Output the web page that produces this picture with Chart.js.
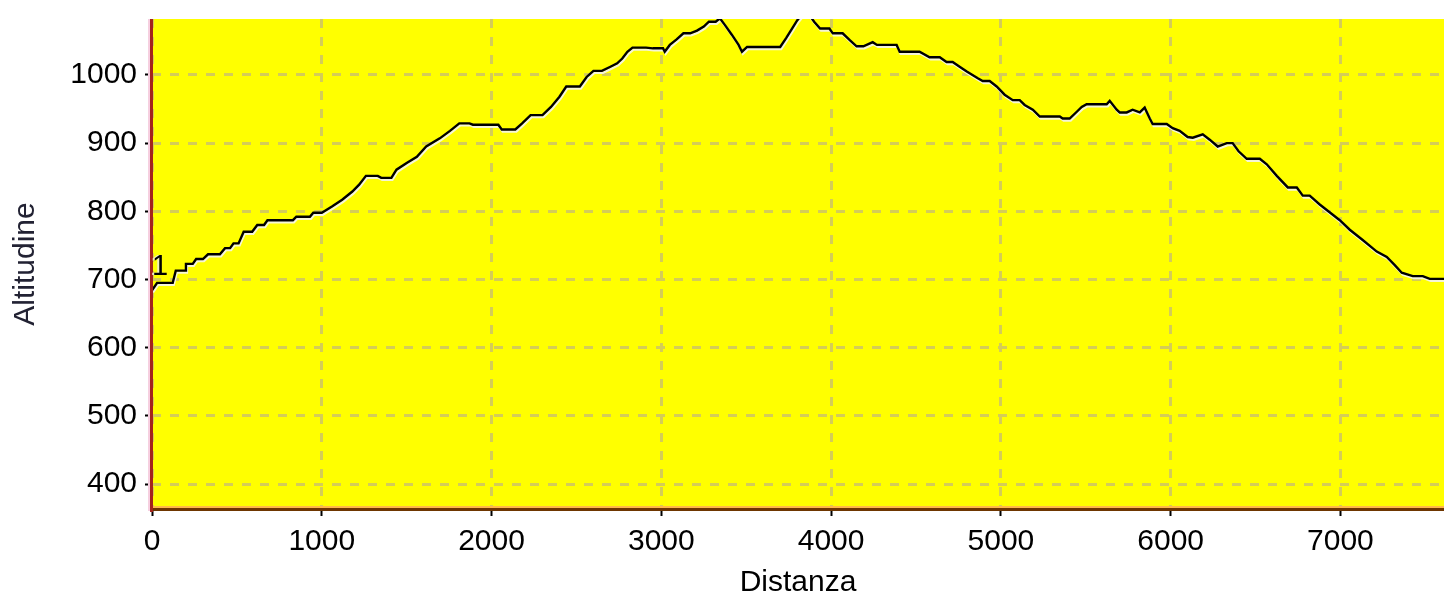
<!DOCTYPE html>
<html>
<head>
<meta charset="utf-8">
<script src="https://cdn.jsdelivr.net/npm/chart.js@4.4.1/dist/chart.umd.min.js"></script>
<style>
  html, body { margin: 0; padding: 0; background: #ffffff; }
  #wrap { position: relative; width: 1447px; height: 607px; }
</style>
</head>
<body>
<div id="wrap"><canvas id="c"></canvas></div>
<script>
// ---- data ----
const distance = [
  0, 30, 122, 140, 195, 200, 240, 260, 300, 330, 400, 430, 460, 480, 510, 540, 590, 620, 660, 680,
  830, 850, 930, 950, 1000, 1060, 1120, 1180, 1220, 1260, 1330, 1350, 1410, 1440, 1500, 1560, 1615, 1695, 1755, 1810,
  1870, 1890, 2040, 2060, 2140, 2180, 2230, 2300, 2350, 2400, 2440, 2520, 2560, 2600, 2650, 2700, 2740, 2770, 2800, 2830,
  2910, 2950, 3010, 3020, 3050, 3090, 3130, 3170, 3210, 3250, 3280, 3320, 3345, 3375, 3415, 3455, 3475, 3505, 3700, 3735,
  3770, 3800, 3840, 3880, 3900, 3935, 3990, 4010, 4068, 4110, 4150, 4190, 4245, 4270, 4386, 4404, 4521, 4580, 4640, 4680,
  4716, 4757, 4799, 4864, 4893, 4934, 4975, 5022, 5070, 5111, 5140, 5188, 5229, 5347, 5364, 5405, 5447, 5476, 5505, 5623,
  5641, 5682, 5700, 5741, 5776, 5818, 5847, 5877, 5894, 5977, 6012, 6053, 6100, 6130, 6189, 6230, 6277, 6330, 6365, 6400,
  6448, 6525, 6566, 6625, 6690, 6743, 6778, 6819, 6878, 6955, 6996, 7055, 7131, 7214, 7273, 7320, 7361, 7426, 7485, 7526,
  7610
];
const altitude = [
  684, 695, 695, 713, 713, 723, 723, 730, 730, 737, 737, 746, 746, 753, 753, 770, 770, 780, 780, 787,
  787, 792, 792, 798, 798, 807, 817, 829, 839, 852, 852, 849, 849, 861, 871, 880, 895, 907, 918, 929,
  929, 927, 927, 920, 920, 929, 941, 941, 953, 968, 983, 983, 997, 1006, 1006, 1012, 1017, 1024, 1034, 1040,
  1040, 1039, 1039, 1034, 1044, 1052, 1061, 1061, 1065, 1071, 1078, 1078, 1083, 1073, 1059, 1044, 1034, 1041, 1041, 1054,
  1068, 1080, 1092, 1085, 1078, 1068, 1068, 1061, 1061, 1051, 1042, 1042, 1048, 1044, 1044, 1034, 1034, 1026, 1026, 1019,
  1019, 1012, 1005, 995, 991, 991, 983, 971, 963, 963, 956, 949, 939, 939, 936, 936, 946, 953, 957, 957,
  962, 949, 945, 945, 949, 945, 952, 936, 928, 928, 922, 918, 909, 908, 913, 905, 895, 900, 900, 888,
  877, 877, 869, 852, 835, 835, 823, 823, 810, 795, 787, 773, 758, 741, 733, 721, 710, 705, 705, 701,
  701
];
const xTicks = [0, 1000, 2000, 3000, 4000, 5000, 6000, 7000];
const yTicks = [400, 500, 600, 700, 800, 900, 1000];
const xTitle = 'Distanza';
const yTitle = 'Altitudine';
const waypointLabel = '1';
const waypointAt = [0, 706];

// ---- chart ----
const points = distance.map((d, i) => ({ x: d, y: altitude[i] }));
const FONT = "'Liberation Sans', Arial, sans-serif";

const framePlugin = {
  id: 'frame',
  beforeDraw(chart) {
    const { ctx, chartArea: a } = chart;
    ctx.save();
    ctx.fillStyle = '#ffffff';
    ctx.fillRect(0, 0, chart.width, chart.height);
    ctx.fillStyle = '#ffff00';
    ctx.fillRect(a.left, a.top, a.right - a.left, a.bottom - a.top);
    ctx.restore();
  },
  beforeDatasetDraw(chart) {
    const ctx = chart.ctx;
    ctx.save();
    ctx.shadowColor = 'rgba(245,245,225,0.95)';
    ctx.shadowOffsetX = 1;
    ctx.shadowOffsetY = 2;
    ctx.shadowBlur = 0;
  },
  afterDatasetDraw(chart) {
    chart.ctx.restore();
  },
  afterDatasetsDraw(chart) {
    const { ctx, chartArea: a, scales } = chart;
    ctx.save();
    // bottom axis: orange highlight + brown line
    ctx.fillStyle = '#ffb84a';
    ctx.fillRect(a.left, a.bottom - 3, a.right - a.left, 2);
    ctx.fillStyle = '#6e3600';
    ctx.fillRect(a.left, a.bottom - 1, a.right - a.left, 3);
    // left axis: pink highlight + dark red line
    ctx.fillStyle = '#f6cfe0';
    ctx.fillRect(a.left - 4, a.top, 2, a.bottom + 2 - a.top);
    ctx.fillStyle = '#a3241c';
    ctx.fillRect(a.left - 2, a.top, 3, a.bottom + 3 - a.top);
    // waypoint label
    const px = scales.x.getPixelForValue(waypointAt[0]);
    const py = scales.y.getPixelForValue(waypointAt[1]);
    ctx.font = "29px " + FONT;
    ctx.textAlign = 'left';
    ctx.textBaseline = 'alphabetic';
    ctx.fillStyle = '#f2eec0';
    ctx.fillText(waypointLabel, px - 2, py);
    ctx.fillStyle = '#000000';
    ctx.fillText(waypointLabel, px, py);
    ctx.restore();
  }
};

const plainLabel = v => String(v);

new Chart(document.getElementById('c'), {
  type: 'line',
  data: {
    datasets: [{
      data: points,
      borderColor: '#000000',
      borderWidth: 2.4,
      pointRadius: 0,
      tension: 0,
      fill: false,
      clip: 0
    }]
  },
  options: {
    responsive: true,
    maintainAspectRatio: false,
    animation: false,
    events: [],
    layout: { padding: { left: 0, top: 19, right: 3, bottom: 0 } },
    plugins: { legend: { display: false }, tooltip: { enabled: false } },
    scales: {
      x: {
        type: 'linear',
        min: 0,
        max: 7610,
        afterFit(scale) { scale.height = 98; scale.paddingLeft = 0; scale.paddingRight = 0; },
        afterBuildTicks(scale) { scale.ticks = xTicks.map(v => ({ value: v })); },
        grid: {
          color: '#d4cc58',
          lineWidth: 3,
          tickColor: '#000000',
          tickWidth: 2,
          tickLength: 7
        },
        border: { display: false, dash: [9, 9] },
        ticks: {
          color: '#000000',
          font: { family: FONT, size: 30 },
          padding: 8,
          maxRotation: 0,
          autoSkip: false,
          callback: plainLabel
        },
        title: {
          display: true,
          text: xTitle,
          color: '#000000',
          font: { family: FONT, size: 30, lineHeight: 1.2 },
          padding: { top: 0, bottom: 6 }
        }
      },
      y: {
        type: 'linear',
        min: 363.5,
        max: 1082,
        afterFit(scale) { scale.width = 152; scale.paddingTop = 0; scale.paddingBottom = 0; },
        afterBuildTicks(scale) { scale.ticks = yTicks.map(v => ({ value: v })); },
        grid: {
          color: '#d4cc58',
          lineWidth: 3,
          tickColor: '#000000',
          tickWidth: 2,
          tickLength: 7
        },
        border: { display: false, dash: [9, 9] },
        ticks: {
          color: '#000000',
          font: { family: FONT, size: 30 },
          padding: 8,
          autoSkip: false,
          callback: plainLabel
        },
        title: {
          display: true,
          text: yTitle,
          color: '#222233',
          font: { family: FONT, size: 30, lineHeight: 1.2 },
          padding: { top: 8, bottom: 0 }
        }
      }
    }
  },
  plugins: [framePlugin]
});
</script>
</body>
</html>
